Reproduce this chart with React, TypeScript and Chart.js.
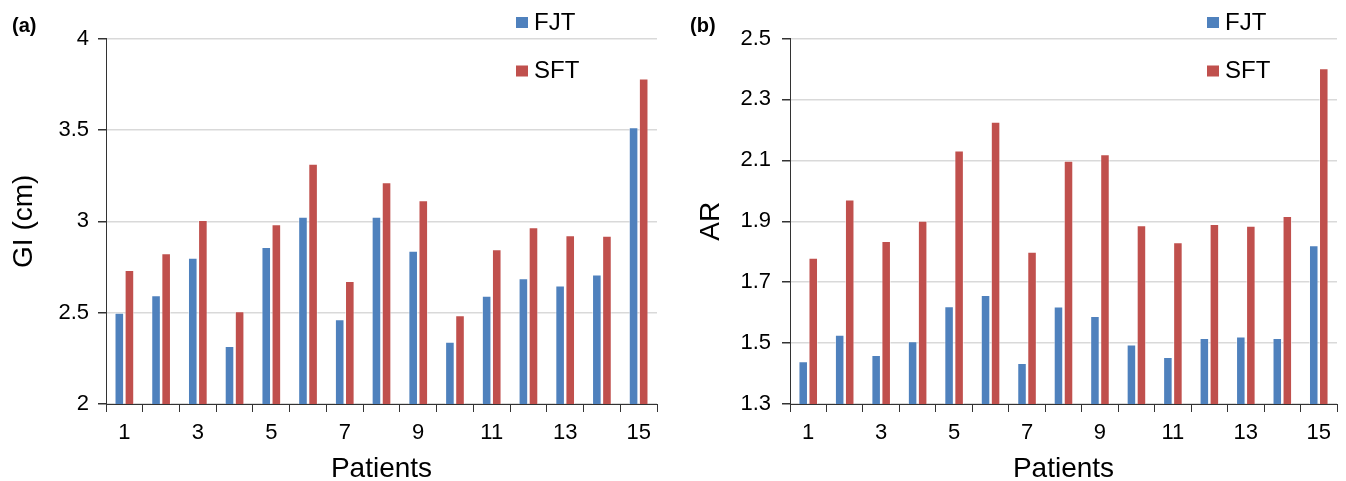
import React, { useEffect, useRef } from "react";
import { Chart, registerables } from "chart.js";

Chart.register(...registerables);

// ---------- data ----------
const patients = ["1", "2", "3", "4", "5", "6", "7", "8", "9", "10", "11", "12", "13", "14", "15"];
const shownPatientLabels = ["1", "3", "5", "7", "9", "11", "13", "15"];
const seriesNames = ["FJT", "SFT"];

const giFJT = [2.5, 2.595, 2.8, 2.317, 2.859, 3.024, 2.464, 3.025, 2.839, 2.341, 2.593, 2.688, 2.648, 2.708, 3.514];
const giSFT = [2.733, 2.825, 3.007, 2.507, 2.983, 3.314, 2.673, 3.213, 3.115, 2.485, 2.847, 2.967, 2.923, 2.921, 3.781];
const giTicks = [2, 2.5, 3, 3.5, 4];

const arFJT = [1.44, 1.527, 1.461, 1.506, 1.621, 1.658, 1.435, 1.62, 1.589, 1.495, 1.454, 1.517, 1.522, 1.517, 1.821];
const arSFT = [1.78, 1.971, 1.835, 1.902, 2.132, 2.227, 1.8, 2.099, 2.12, 1.887, 1.831, 1.891, 1.885, 1.917, 2.402];
const arTicks = [1.3, 1.5, 1.7, 1.9, 2.1, 2.3, 2.5];

// ---------- styles ----------
const BLUE = "#4F81BD";
const RED = "#C0504D";
const FONT = "'Liberation Sans', Arial, sans-serif";
const W = 673;
const H = 481;

type PanelProps = {
  fjt: number[];
  sft: number[];
  ticks: number[];
  decimals: number | null;
  yTitle: string;
  axisWidth: number;
  rightPad: number;
  titlePadTop: number;
  tickPad: number;
  legendX: number;
  panelLabel: string;
  labelX: number;
};

function Panel(p: PanelProps) {
  const ref = useRef<HTMLCanvasElement | null>(null);
  useEffect(() => {
    if (!ref.current) return;
    const overlay = {
      id: "overlay",
      afterDraw(chart: any) {
        const ctx = chart.ctx;
        ctx.save();
        // panel label
        ctx.fillStyle = "#000";
        ctx.font = `bold 20px ${FONT}`;
        ctx.textAlign = "left";
        ctx.textBaseline = "middle";
        ctx.fillText(p.panelLabel, p.labelX, 26);
        // legend
        const rows = [22, 70.5];
        chart.data.datasets.forEach((ds: any, i: number) => {
          const cy = rows[i];
          ctx.fillStyle = ds.backgroundColor;
          ctx.fillRect(p.legendX, cy - 5, 12, 11);
          ctx.fillStyle = "#000";
          ctx.font = `24px ${FONT}`;
          ctx.textBaseline = "middle";
          ctx.fillText(ds.label, p.legendX + 18, cy + 1);
        });
        ctx.restore();
      },
    };
    const chart = new Chart(ref.current, {
      type: "bar",
      data: {
        labels: patients,
        datasets: [
          {
            label: seriesNames[0],
            data: p.fjt,
            backgroundColor: BLUE,
            borderColor: "rgba(255,255,255,0.55)",
            borderWidth: 1,
            categoryPercentage: 0.55,
            barPercentage: 0.95,
          },
          {
            label: seriesNames[1],
            data: p.sft,
            backgroundColor: RED,
            borderColor: "rgba(255,255,255,0.55)",
            borderWidth: 1,
            categoryPercentage: 0.55,
            barPercentage: 0.95,
          },
        ],
      },
      options: {
        responsive: false,
        animation: false,
        layout: { padding: { top: 38.5, right: p.rightPad, left: 0, bottom: 0 } },
        plugins: { legend: { display: false }, tooltip: { enabled: false }, title: { display: false } },
        scales: {
          x: {
            afterFit: (s: any) => {
              s.height = H - 404;
            },
            grid: {
              display: true,
              drawOnChartArea: false,
              drawTicks: true,
              tickLength: 8,
              tickColor: "#333",
              offset: true,
            },
            border: { display: true, color: "#333", width: 1 },
            ticks: {
              autoSkip: false,
              maxRotation: 0,
              padding: 8,
              color: "#000",
              font: { family: FONT, size: 22 },
              callback: function (this: any, value: any) {
                const lbl = this.getLabelForValue(value);
                return shownPatientLabels.includes(lbl) ? lbl : "";
              },
            },
            title: {
              display: true,
              text: "Patients",
              color: "#000",
              font: { family: FONT, size: 28, lineHeight: 0.86 },
              padding: { top: 0, bottom: 0 },
            },
          },
          y: {
            min: p.ticks[0],
            max: p.ticks[p.ticks.length - 1],
            afterFit: (s: any) => {
              s.width = p.axisWidth;
            },
            afterBuildTicks: (s: any) => {
              s.ticks = p.ticks.map((v) => ({ value: v }));
            },
            grid: {
              color: "#d9d9d9",
              lineWidth: 1.5,
              drawTicks: true,
              tickLength: 8,
              tickColor: "#333",
            },
            border: { display: true, color: "#333", width: 1 },
            ticks: {
              padding: p.tickPad,
              color: "#000",
              font: { family: FONT, size: 22 },
              callback: (v: any) => (p.decimals === null ? String(v) : Number(v).toFixed(p.decimals)),
            },
            title: {
              display: true,
              text: p.yTitle,
              color: "#000",
              font: { family: FONT, size: 28 },
              padding: { top: p.titlePadTop, bottom: 0 },
            },
          },
        },
      } as any,
      plugins: [overlay],
    });
    return () => chart.destroy();
  }, []);
  return <canvas ref={ref} width={W} height={H} style={{ display: "block", width: W, height: H }} />;
}

export default function App() {
  return (
    <div
      style={{
        position: "absolute",
        left: 0,
        top: 0,
        width: 1346,
        height: 481,
        display: "flex",
        background: "#fff",
      }}
    >
      <Panel
        fjt={giFJT}
        sft={giSFT}
        ticks={giTicks}
        decimals={null}
        yTitle="GI (cm)"
        axisWidth={106}
        rightPad={16}
        titlePadTop={7}
        tickPad={9}
        legendX={516}
        panelLabel="(a)"
        labelX={12}
      />
      <Panel
        fjt={arFJT}
        sft={arSFT}
        ticks={arTicks}
        decimals={1}
        yTitle="AR"
        axisWidth={117}
        rightPad={9}
        titlePadTop={21}
        tickPad={11}
        legendX={534}
        panelLabel="(b)"
        labelX={17}
      />
    </div>
  );
}
